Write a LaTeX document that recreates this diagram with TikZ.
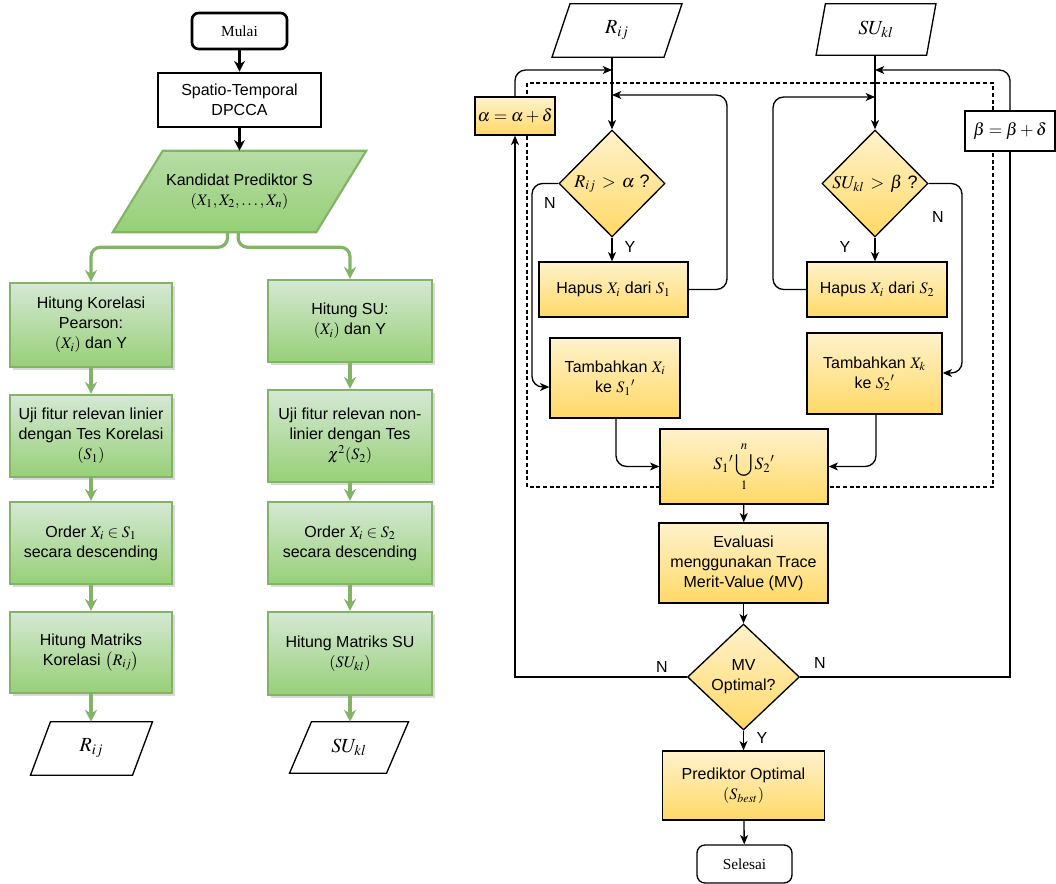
\documentclass[tikz,border=0pt]{standalone}
\usepackage{mathptmx}
\usepackage[no-math]{fontspec}
\setmainfont{Liberation Sans}
\newfontfamily\tmsfont{Liberation Serif}
\usetikzlibrary{shapes.geometric,arrows.meta,shadows}
\pgfdeclarelayer{bg}
\pgfsetlayers{bg,main}
\definecolor{gtop}{HTML}{D5E8D4}
\definecolor{gbot}{HTML}{97D077}
\definecolor{gline}{HTML}{82B366}
\definecolor{ytop}{HTML}{FFF2CC}
\definecolor{ybot}{HTML}{FFD966}
\newcommand\drawpara[3]{\begin{pgfonlayer}{bg}\path[#3] ([xshift=-#2]#1.south west) -- ([xshift=#2]#1.north west) -- ([xshift=#2]#1.north east) -- ([xshift=-#2]#1.south east) -- cycle;\end{pgfonlayer}}
\begin{document}
\begin{tikzpicture}[x=0.75pt,y=-0.75pt,
  every node/.style={font=\fontsize{12}{15}\selectfont, align=center, inner sep=1pt},
  sz/.style 2 args={minimum width=#1*0.75pt, minimum height=#2*0.75pt},
  wbox/.style={rectangle, draw=black, line width=2pt, fill=white},
  gbox/.style={rectangle, draw=gline, line width=1.6pt, top color=gtop, bottom color=gbot,
    drop shadow={shadow xshift=2pt, shadow yshift=-2pt, opacity=0.3}},
  ybox/.style={rectangle, draw=black, line width=1pt, top color=ytop, bottom color=ybot},
  bbox/.style={rectangle, draw=black, line width=1pt, fill=white},
  ydia/.style={diamond, draw=black, line width=1pt, top color=ytop, bottom color=ybot, inner sep=0pt},
  ptext/.style={rectangle, inner sep=0pt},
  mtext/.style={rectangle, inner sep=0pt, font=\fontsize{15}{17}\selectfont},
  gpara/.style={draw=gline, line width=1.6pt, top color=gtop!50!gbot, bottom color=gbot},
  wpara/.style={draw=black, line width=1pt, fill=white},
  gconn/.style={draw=gline, line width=2.4pt, rounded corners=7pt, -{Stealth[length=9pt,width=9pt,inset=3pt]}},
  conn/.style={draw=black, line width=1pt, rounded corners=8pt, -{Stealth[length=7pt,width=6pt,inset=2pt]}},
  line/.style={draw=black, line width=1pt},
  lbl/.style={font=\fontsize{12}{14}\selectfont, inner sep=0pt}
]
\useasboundingbox (0,0) rectangle (1056,884);

% ---------------- left part ----------------
\node[wbox, rounded corners=5pt, sz={95}{36}, font=\tmsfont\fontsize{11.5}{13}\selectfont] (mulai) at (239.5,31) {Mulai};
\node[wbox, sz={163}{54}] (dpcca) at (239.5,100) {Spatio-Temporal\\DPCCA};
\node[ptext, sz={203}{81}] (kand) at (239.5,191.5) {Kandidat Prediktor S\\$(X_1, X_2, \ldots, X_n)$};
\drawpara{kand}{18.75pt}{gpara}

\node[gbox, sz={162}{84}] (a1) at (91,325) {Hitung Korelasi\\Pearson:\\$(X_i)$ dan Y};
\node[gbox, sz={162}{82}] (a2) at (91,436) {Uji fitur relevan linier\\dengan Tes Korelasi\\$(S_1)$};
\node[gbox, sz={162}{82}] (a3) at (91,543) {Order $X_i \in S_1$\\secara descending};
\node[gbox, sz={162}{81}] (a4) at (91,652.5) {Hitung Matriks\\Korelasi $\left(R_{ij}\right)$};
\node[mtext, sz={101.5}{53}] (rpar) at (91.5,748.5) {$R_{ij}$};
\drawpara{rpar}{7.5pt}{wpara}

\node[gbox, sz={164}{82}] (b1) at (350,321) {Hitung SU:\\$(X_i)$ dan Y};
\node[gbox, sz={164}{92}] (b2) at (350,436) {Uji fitur relevan non-\\linier dengan Tes\\$\chi^2(S_2)$};
\node[gbox, sz={164}{82}] (b3) at (350,543) {Order $X_i \in S_2$\\secara descending};
\node[gbox, sz={164}{83}] (b4) at (350,653.5) {Hitung Matriks SU\\$(SU_{kl})$};
\node[mtext, sz={96.5}{51}] (supar) at (349,747.5) {$SU_{kl}$};
\drawpara{supar}{8.25pt}{wpara}

\draw[line, line width=2pt, -{Stealth[length=8pt,width=8pt,inset=2.5pt]}] (mulai) -- (dpcca);
\draw[line, line width=2pt, -{Stealth[length=8pt,width=8pt,inset=2.5pt]}] (dpcca) -- (kand);

\draw[gconn] ([xshift=-9pt]kand.south) -- ++(0,15) -| (a1.north);
\draw[gconn] ([xshift=-1pt]kand.south) -- ++(0,15) -| (b1.north);
\draw[gconn] (a1) -- (a2);
\draw[gconn] (a2) -- (a3);
\draw[gconn] (a3) -- (a4);
\draw[gconn] (a4.south) -- (a4.south |- rpar.north);
\draw[gconn] (b1) -- (b2);
\draw[gconn] (b2) -- (b3);
\draw[gconn] (b3) -- (b4);
\draw[gconn] (b4.south) -- (b4.south |- supar.north);

% ---------------- right part ----------------
\draw[line, line width=0.8pt, dashed, dash pattern=on 3pt off 2pt] (527,83) rectangle (993,487);

\node[mtext, sz={111.5}{53}] (rij) at (617,30.5) {$R_{ij}$};
\drawpara{rij}{6.75pt}{wpara}
\node[mtext, sz={110}{51}] (suk) at (876,29.5) {$SU_{kl}$};
\drawpara{suk}{3.5pt}{wpara}

\node[ybox, sz={80}{38}, font=\fontsize{13}{15}\selectfont] (alpha) at (515,116) {$\alpha = \alpha + \delta$};
\node[bbox, sz={90}{40}, font=\fontsize{13}{15}\selectfont] (beta) at (1010,131) {$\beta = \beta + \delta$};

\node[ydia, sz={106}{107}, font=\fontsize{13.5}{15}\selectfont] (d1) at (612,183.5) {$R_{ij}\,>\,\alpha$ ?};
\node[ydia, sz={106}{107}, font=\fontsize{13.5}{15}\selectfont] (d2) at (875,183.5) {$SU_{kl}\,>\,\beta$ ?};

\node[ybox, sz={149}{55}] (hap1) at (613.5,289.5) {Hapus $X_i$ dari $S_1$};
\node[ybox, sz={140}{55}] (hap2) at (877,289.5) {Hapus $X_i$ dari $S_2$};
\node[ybox, sz={130}{80}] (tam1) at (615,378) {Tambahkan $X_i$\\ke ${S_1}'$};
\node[ybox, sz={135}{81}] (tam2) at (874.5,373.5) {Tambahkan $X_k$\\ke ${S_2}'$};
\node[ybox, sz={168}{75}, font=\fontsize{13}{15}\selectfont] (uni) at (744,466.5) {$\displaystyle {S_1}'\bigcup_{1}^{n}{S_2}'$};
\node[ybox, sz={169}{80}] (eval) at (743.5,563) {Evaluasi\\menggunakan Trace\\Merit-Value (MV)};
\node[ydia, sz={112}{106}] (mv) at (743.5,677) {MV\\Optimal?};
\node[ybox, sz={162}{69}] (pred) at (743.5,785.5) {Prediktor Optimal\\$(S_{best})$};
\node[rectangle, draw=black, line width=1pt, fill=white, rounded corners=6pt, sz={95}{38}, font=\tmsfont\fontsize{11.5}{13}\selectfont] (sel) at (744.5,864) {Selesai};

\coordinate (ja) at (612,70);
\coordinate (ja2) at (612,95);
\coordinate (jb) at (875,70);
\coordinate (jb2) at (875,97);
\coordinate (na) at (532,387);
\coordinate (nb) at (962,373);
\coordinate (la) at (727,95);
\coordinate (lb) at (773,97);

\draw[line] ([xshift=-3.75pt]rij.south) -- (ja);
\draw[conn] (ja) -- (d1.north);
\draw[conn] (alpha.north) |- (ja);
\draw[conn] (hap1.east) -| (la) -- (ja2);
\draw[conn] (d1.south) -- (d1.south |- hap1.north);
\draw[conn] (d1.west) -| (na) -- (na -| tam1.west);

\draw[line] ([xshift=-0.75pt]suk.south) -- (jb);
\draw[conn] (jb) -- (d2.north);
\draw[conn] (beta.north) |- (jb);
\draw[conn] (hap2.west) -| (lb) -- (jb2);
\draw[conn] (d2.south) -- (d2.south |- hap2.north);
\draw[conn] (d2.east) -| (nb) -- (nb -| tam2.east);

\draw[conn] ([xshift=0.75pt]tam1.south) |- (uni.west);
\draw[conn] ([xshift=1.1pt]tam2.south) |- (uni.east);
\draw[conn] (uni) -- (eval);
\draw[conn] (eval) -- (mv);
\draw[conn] (mv) -- (pred);
\draw[conn] (pred) -- (sel);
\draw[conn, rounded corners=0pt] (mv.west) -| (alpha.south);
\draw[line] (mv.east) -| (beta.south);

\node[lbl] at (550,203) {N};
\node[lbl] at (630,247) {Y};
\node[lbl] at (938,217) {N};
\node[lbl] at (845,247) {Y};
\node[lbl] at (662,667) {N};
\node[lbl] at (820,663) {N};
\node[lbl] at (762,738) {Y};
\end{tikzpicture}
\end{document}
